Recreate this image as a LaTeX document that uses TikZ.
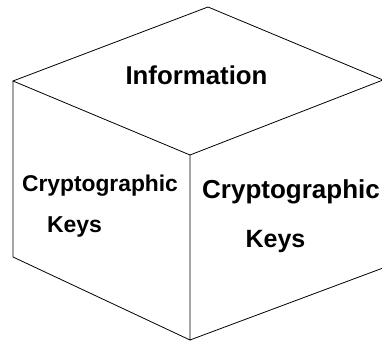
\documentclass[tikz,border=0pt]{standalone}
\usepackage{fontspec}
\setmainfont{Liberation Sans}
\usepackage{tikz}

\tikzset{
  face/.style={line width=0.8pt,black},
  lbl/.style={inner sep=0pt,anchor=base,font=\bfseries\fontsize{#1}{#1}\selectfont}
}

\begin{document}
\begin{tikzpicture}[x=1pt,y=1pt]
\useasboundingbox (0,0) rectangle (382,342);
\clip (0,0) rectangle (382,342);
\coordinate (T) at (208,335);
\coordinate (L) at (13,261);
\coordinate (R) at (383,262);
\coordinate (F) at (190,187);
\coordinate (LB) at (13,85);
\coordinate (FB) at (190,2);
\coordinate (RB) at (383,74);
\draw[face] (L) -- (T) -- (R) -- (F) -- cycle;
\draw[face] (L) -- (LB) -- (FB) -- (F);
\draw[face] (FB) -- (RB) -- (R);
\node[lbl=25.8] (info) at (196.5,257) {Information};
\node[lbl=22.8] (crl) at (100,150.5) {Cryptographic};
\node[lbl=23] (kl) at (74.5,109) {Keys};
\node[lbl=26] (crr) at (291,143) {Cryptographic};
\node[lbl=25] (kr) at (275.5,94) {Keys};
\end{tikzpicture}
\end{document}
